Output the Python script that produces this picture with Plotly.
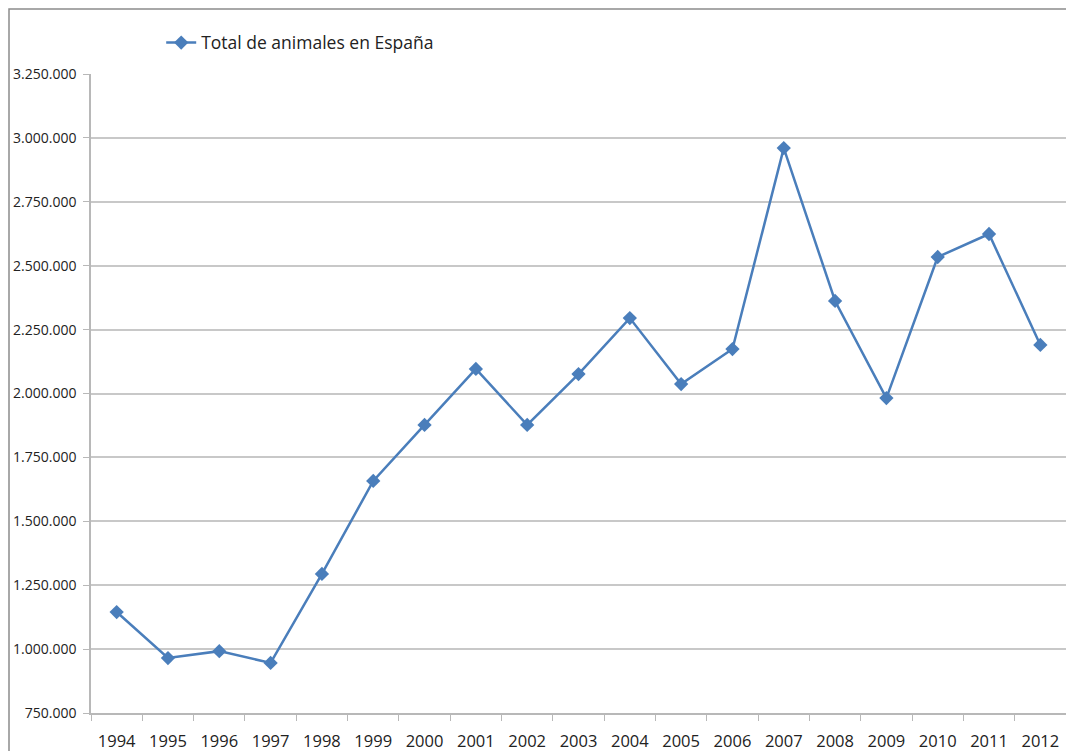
import plotly.graph_objects as go

# ── Datos ─────────────────────────────────────────────
years = [str(y) for y in range(1994, 2013)]
total_animales = [
    1145000, 965000, 992000, 946000, 1294000, 1658000, 1877000, 2096000,
    1877000, 2076000, 2295000, 2037000, 2174000, 2960000, 2362000,
    1982000, 2534000, 2624000, 2190000,
]
y_ticks = [750000 + 250000 * i for i in range(11)]

LINE_COLOR = "#4a7ebb"
GRID_COLOR = "#c8c8c8"
AXIS_COLOR = "#b8b8b8"
TEXT_COLOR = "#222222"
FONT = "Open Sans, Noto Sans, sans-serif"

fig = go.Figure()

fig.add_trace(go.Scatter(
    x=years,
    y=total_animales,
    mode="lines+markers",
    name="Total de animales en España",
    line=dict(color=LINE_COLOR, width=2.5),
    marker=dict(symbol="diamond", size=11, color=LINE_COLOR),
))

# marco exterior del gráfico
fig.add_shape(
    type="rect", xref="paper", yref="paper",
    x0=-0.0841, x1=1.2, y0=-0.2, y1=1.1017,
    line=dict(color="#8c8c8c", width=1.5),
    fillcolor="rgba(0,0,0,0)", layer="below",
)

# la página añade 8px de margen al cuerpo
fig.update_layout(
    width=1066,
    height=743,
    margin=dict(l=83, r=8, t=66, b=38),
    paper_bgcolor="white",
    plot_bgcolor="white",
    separators=",.",
    font=dict(family=FONT, color=TEXT_COLOR),
    showlegend=True,
    legend=dict(
        x=0.072, y=1.049, xanchor="left", yanchor="middle",
        font=dict(size=17.5, family=FONT, color=TEXT_COLOR),
        bgcolor="rgba(0,0,0,0)",
        itemwidth=30,
    ),
    xaxis=dict(
        type="category",
        tickson="boundaries",
        ticks="outside",
        ticklen=6,
        tickcolor=AXIS_COLOR,
        showline=True,
        linecolor=AXIS_COLOR,
        linewidth=1.5,
        showgrid=False,
        automargin=False,
        ticklabelstandoff=12,
        tickfont=dict(size=16.5, family=FONT, color=TEXT_COLOR),
        range=[-0.5, len(years) - 0.5],
    ),
    yaxis=dict(
        range=[750000, 3250000],
        tickvals=y_ticks,
        tickformat=",d",
        ticks="outside",
        ticklen=6,
        tickcolor=AXIS_COLOR,
        showline=True,
        linecolor=AXIS_COLOR,
        linewidth=1.5,
        showgrid=True,
        gridcolor=GRID_COLOR,
        gridwidth=1.5,
        zeroline=False,
        automargin=False,
        ticklabelstandoff=4,
        tickfont=dict(size=14, family=FONT, color=TEXT_COLOR),
    ),
)

fig.write_html("out.html")
